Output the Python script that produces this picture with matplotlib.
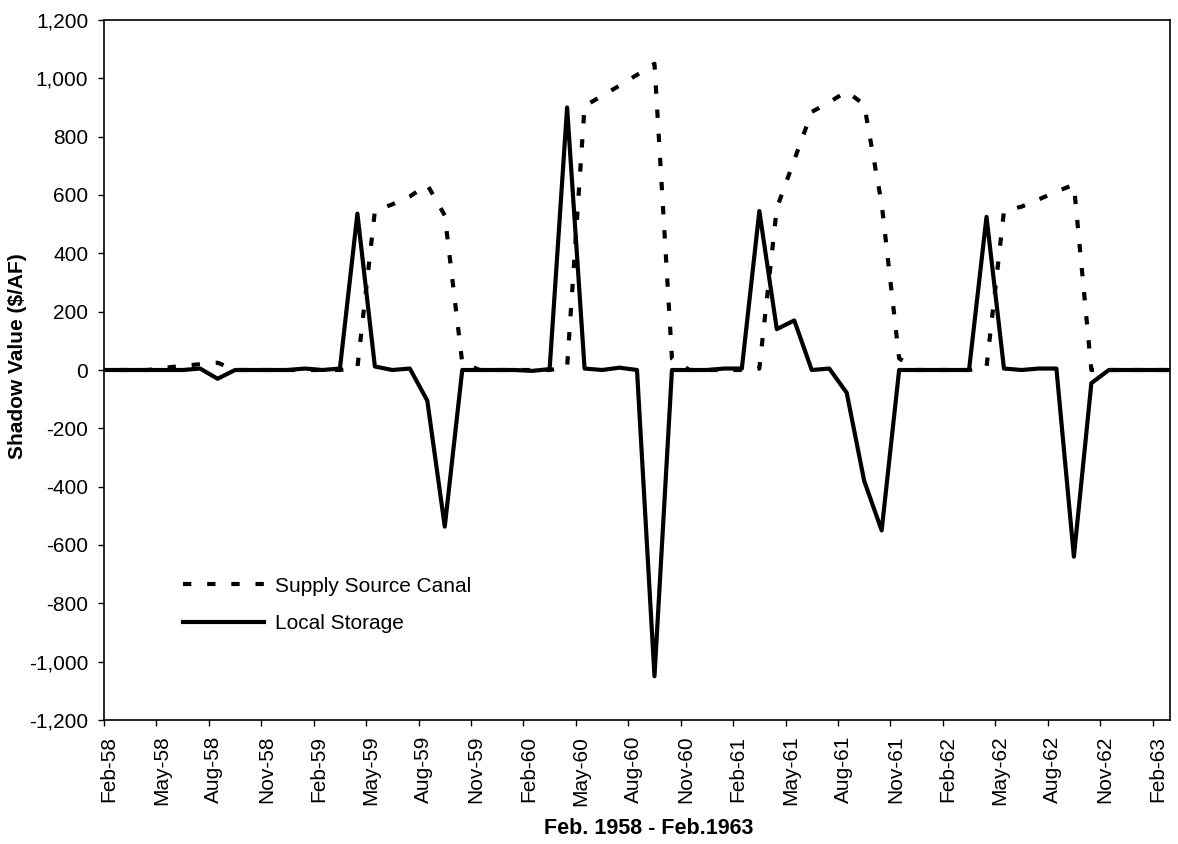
import numpy as np
import pandas as pd
import matplotlib
matplotlib.use('Agg')
import matplotlib.pyplot as plt
from matplotlib.ticker import FuncFormatter
from matplotlib.transforms import ScaledTranslation

plt.rcParams['font.family'] = ['Liberation Sans', 'DejaVu Sans']

# monthly shadow values, Jan-58 .. Mar-63 (first and last month sit outside the axis)
supply_canal = [
    0,                                              # Jan-58
    0, 0, 0, 8, 14, 20, 25, 0, 0, 0, 0, 0,          # Feb-58 .. Jan-59
    0, 0, 8, 545, 568, 595, 635, 530, 25, 0, 0, 0,  # Feb-59 .. Jan-60
    0, 0, 10, 905, 940, 975, 1012, 1050, 40, 0, 0, 0,   # Feb-60 .. Jan-61
    0, 5, 555, 720, 885, 918, 955, 910, 570, 40, 0, 0,  # Feb-61 .. Jan-62
    0, 0, 10, 545, 560, 585, 612, 635, 0, 0, 0, 0,  # Feb-62 .. Jan-63
    0,                                              # Feb-63
    0,                                              # Mar-63
]
local_storage = [
    0,
    0, 0, 0, 0, 0, 5, -30, 0, 0, 0, 0, 5,
    0, 5, 536, 12, 0, 5, -105, -537, 0, 0, 0, 0,
    -3, 3, 900, 5, 0, 8, 0, -1050, 0, 0, 0, 5,
    5, 545, 140, 170, 0, 5, -78, -380, -550, 0, 0, 0,
    0, 0, 525, 5, 0, 5, 5, -640, -45, 0, 0, 0,
    0,
    0,
]
tick_labels = ['Feb-58', 'May-58', 'Aug-58', 'Nov-58', 'Feb-59', 'May-59', 'Aug-59',
               'Nov-59', 'Feb-60', 'May-60', 'Aug-60', 'Nov-60', 'Feb-61', 'May-61',
               'Aug-61', 'Nov-61', 'Feb-62', 'May-62', 'Aug-62', 'Nov-62', 'Feb-63']

df = pd.DataFrame({'Supply Source Canal': supply_canal, 'Local Storage': local_storage})
# each month is drawn in the middle of its slot, Feb-58 slot = [0, 1]
df.index = np.arange(len(df)) - 0.5

fig = plt.figure(figsize=(11.78, 8.44), dpi=100)
ax = fig.add_axes([104 / 1178, 1 - 720 / 844, 1066 / 1178, 700 / 844])

ax.plot(df.index, df['Supply Source Canal'], color='black', lw=3,
        linestyle=(0, (2, 3.8)), dash_capstyle='butt', label='Supply Source Canal')
ax.plot(df.index, df['Local Storage'], color='black', lw=3, label='Local Storage')

ax.set_xlim(0, 61)
ax.set_ylim(-1200, 1200)
ax.set_yticks(np.arange(-1200, 1201, 200))
ax.yaxis.set_major_formatter(FuncFormatter(lambda v, p: f'{v:,.0f}'))
ax.set_xticks(np.arange(0, 61, 3))
ax.set_xticklabels(tick_labels, rotation=90)

ax.tick_params(axis='both', direction='out', length=4.3, width=1, pad=7,
               labelsize=15, colors='black')
for lab in ax.get_xticklabels():
    lab.set_transform(lab.get_transform() + ScaledTranslation(5 / 100, 0, fig.dpi_scale_trans))
for side in ['left', 'bottom', 'top', 'right']:
    ax.spines[side].set_linewidth(1.2)
    ax.spines[side].set_color('black')

fig.text(18 / 1178, 1 - 356 / 844, 'Shadow Value ($/AF)', rotation=90,
         ha='center', va='center', fontsize=15, fontweight='bold')
fig.text(649 / 1178, 1 - 829 / 844, 'Feb. 1958 - Feb.1963',
         ha='center', va='center', fontsize=15.5, fontweight='bold')

ax.legend(loc='center left', bbox_to_anchor=(183 / 1178, 1 - 605 / 844),
          bbox_transform=fig.transFigure, frameon=False, fontsize=15,
          handlelength=3.9, handletextpad=0.5, labelspacing=0.9,
          borderpad=0, borderaxespad=0)

fig.savefig('out.png', dpi=100)
